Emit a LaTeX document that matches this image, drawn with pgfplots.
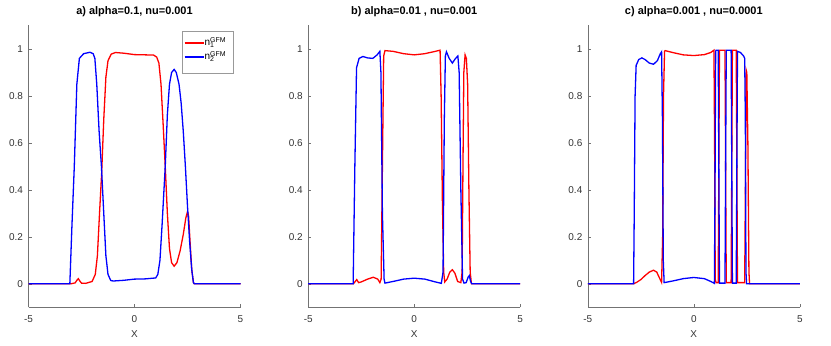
\documentclass[border=0pt]{standalone}
\usepackage{fontspec}
\setmainfont{Liberation Sans}
\setsansfont{Liberation Sans}
\usepackage{pgfplots}
\pgfplotsset{compat=1.18}

\pgfplotsset{
  gfm/.style={
    scale only axis,
    width=212bp, height=281.8bp,
    anchor=south west,
    xmin=-5, xmax=5, ymin=-0.1, ymax=1.1,
    enlargelimits=false,
    axis x line*=bottom, axis y line*=left,
    axis line style={-, draw=black!55, line width=0.5bp},
    tick style={draw=black!55, line width=0.5bp},
    tick align=inside,
    major tick length=3bp,
    xtick={-5,0,5},
    ytick={0,0.2,0.4,0.6,0.8,1},
    /pgf/number format/assume math mode=true,
    tick label style={font=\fontsize{10}{12}\selectfont, text=black!80},
    xticklabel style={anchor=base, yshift=-15bp},
    yticklabel style={xshift=-2bp},
    xlabel={X},
    xlabel style={at={(axis description cs:0.5,0)}, anchor=base, yshift=-30bp,
      font=\fontsize{10}{12}\selectfont, text=black!80},
    title style={at={(axis description cs:0.5,1)}, anchor=base, yshift=5bp,
      font=\bfseries\fontsize{11}{13}\selectfont},
  },
}

\begin{document}
\begin{tikzpicture}[x=1bp,y=1bp]
\path[use as bounding box] (0,0) rectangle (831,345);

% ---- panel a ----
\begin{axis}[gfm, at={(28.5bp,37.7bp)},
  title={a) alpha=0.1, nu=0.001}]
\addplot[red, line width=1.3bp] coordinates {
(-5,0)(-3.0,0)(-2.8,0.004)(-2.72,0.015)(-2.65,0.022)(-2.58,0.012)(-2.5,0.003)
(-2.3,0.002)(-2.0,0.01)(-1.85,0.04)(-1.75,0.12)(-1.65,0.3)(-1.55,0.47)(-1.45,0.7)
(-1.35,0.88)(-1.25,0.95)(-1.1,0.978)(-0.9,0.985)(-0.5,0.982)(0,0.976)(0.5,0.975)
(0.9,0.974)(1.05,0.965)(1.15,0.94)(1.25,0.85)(1.35,0.68)(1.45,0.5)(1.55,0.3)
(1.65,0.15)(1.75,0.09)(1.87,0.075)(2.0,0.09)(2.15,0.14)(2.3,0.21)(2.42,0.28)
(2.5,0.308)(2.55,0.29)(2.62,0.18)(2.7,0.06)(2.78,0.005)(2.82,0)(5,0)
};
\addplot[blue, line width=1.3bp] coordinates {
(-5,0)(-3.05,0)(-2.95,0.25)(-2.84,0.5)(-2.72,0.85)(-2.6,0.96)(-2.4,0.98)
(-2.1,0.986)(-1.95,0.98)(-1.87,0.96)(-1.78,0.85)(-1.67,0.65)(-1.56,0.5)
(-1.45,0.3)(-1.35,0.12)(-1.25,0.04)(-1.12,0.014)(-1.0,0.012)(-0.5,0.015)
(0,0.02)(0.5,0.021)(1.0,0.025)(1.1,0.04)(1.2,0.1)(1.3,0.25)(1.45,0.5)
(1.55,0.72)(1.65,0.85)(1.75,0.9)(1.87,0.913)(1.97,0.9)(2.1,0.85)(2.2,0.77)
(2.3,0.65)(2.4,0.5)(2.5,0.33)(2.6,0.18)(2.7,0.06)(2.78,0.005)(2.82,0)(5,0)
};
% legend box
\draw[black!40, line width=0.5bp, fill=white]
  (rel axis cs:0.724,0.830) rectangle (rel axis cs:0.966,0.978);
\draw[red, line width=1.3bp] (rel axis cs:0.736,0.938) -- (rel axis cs:0.827,0.938);
\draw[blue, line width=1.3bp] (rel axis cs:0.736,0.888) -- (rel axis cs:0.827,0.888);
\node[anchor=base west, inner sep=0pt, yshift=-2.8bp, font=\fontsize{10}{11}\selectfont]
  at (rel axis cs:0.830,0.938) {n\rlap{\textsubscript{1}}\textsuperscript{GFM}};
\node[anchor=base west, inner sep=0pt, yshift=-2.8bp, font=\fontsize{10}{11}\selectfont]
  at (rel axis cs:0.830,0.888) {n\rlap{\textsubscript{2}}\textsuperscript{GFM}};
\end{axis}

% ---- panel b ----
\begin{axis}[gfm, at={(308.2bp,37.7bp)},
  title={b) alpha=0.01 , nu=0.001}]
\addplot[red, line width=1.3bp] coordinates {
(-5,0)(-2.87,0)(-2.78,0.01)(-2.71,0.018)(-2.62,0.005)(-2.5,0.008)(-2.2,0.02)
(-1.93,0.028)(-1.72,0.02)(-1.62,0.005)(-1.56,0.02)(-1.5,0.5)(-1.44,0.97)
(-1.38,0.993)(-1.0,0.99)(-0.5,0.98)(0,0.975)(0.5,0.98)(1.0,0.99)(1.22,0.995)
(1.27,0.8)(1.33,0.35)(1.39,0.05)(1.44,0.008)(1.55,0.02)(1.68,0.05)(1.8,0.06)
(1.92,0.045)(2.05,0.01)(2.2,0.005)(2.26,0.05)(2.3,0.5)(2.34,0.9)(2.4,0.975)
(2.46,0.96)(2.52,0.85)(2.58,0.4)(2.64,0.05)(2.7,0)(5,0)
};
\addplot[blue, line width=1.3bp] coordinates {
(-5,0)(-2.88,0)(-2.8,0.5)(-2.72,0.92)(-2.6,0.96)(-2.42,0.968)(-2.2,0.962)
(-1.95,0.96)(-1.75,0.975)(-1.62,0.99)(-1.57,0.9)(-1.5,0.3)(-1.42,0.02)
(-1.38,0.003)(-1.0,0.01)(-0.5,0.02)(0,0.024)(0.5,0.02)(1.0,0.008)(1.28,0.002)
(1.36,0.05)(1.42,0.7)(1.47,0.97)(1.52,0.988)(1.65,0.96)(1.8,0.94)(1.95,0.96)
(2.06,0.97)(2.12,0.9)(2.2,0.4)(2.28,0.02)(2.35,0.003)(2.45,0.005)(2.55,0.03)
(2.6,0.035)(2.66,0.01)(2.72,0)(5,0)
};
\end{axis}

% ---- panel c ----
\begin{axis}[gfm, at={(587.8bp,37.7bp)},
  title={c) alpha=0.001 , nu=0.0001}]
\addplot[red, line width=1.3bp] coordinates {
(-5,0)(-2.84,0)(-2.78,0.003)(-2.7,0.006)(-2.5,0.018)(-2.3,0.035)(-2.1,0.05)
(-1.9,0.058)(-1.75,0.05)(-1.62,0.025)(-1.52,0.006)(-1.47,0.2)(-1.43,0.8)
(-1.38,0.99)(-1.35,0.993)(-1.0,0.985)(-0.5,0.975)(0,0.972)(0.5,0.976)
(0.8,0.985)(0.95,0.995)(0.98,0.6)(1.01,0.02)(1.05,0.005)(1.15,0.005)(1.18,0.5)
(1.21,0.995)(1.47,0.995)(1.5,0.5)(1.53,0.005)(1.76,0.005)(1.79,0.5)(1.82,0.995)
(2.0,0.995)(2.03,0.5)(2.06,0.005)(2.4,0.005)(2.44,0.5)(2.47,0.91)(2.5,0.9)
(2.55,0.6)(2.6,0.05)(2.63,0)(5,0)
};
\addplot[blue, line width=1.3bp] coordinates {
(-5,0)(-2.84,0)(-2.81,0.3)(-2.77,0.8)(-2.72,0.93)(-2.6,0.955)(-2.45,0.962)
(-2.3,0.955)(-2.1,0.94)(-1.9,0.935)(-1.72,0.95)(-1.58,0.98)(-1.52,0.988)
(-1.48,0.7)(-1.44,0.1)(-1.4,0.005)(-1.0,0.012)(-0.5,0.022)(0,0.027)(0.5,0.022)
(0.8,0.01)(0.97,0.002)(1.0,0.4)(1.03,0.99)(1.05,0.995)(1.15,0.995)(1.18,0.5)
(1.21,0.003)(1.47,0.003)(1.5,0.5)(1.53,0.995)(1.76,0.995)(1.79,0.5)(1.82,0.003)
(2.0,0.003)(2.03,0.5)(2.06,0.99)(2.2,0.985)(2.35,0.97)(2.4,0.96)(2.43,0.7)
(2.46,0.05)(2.49,0)(5,0)
};
\end{axis}
\end{tikzpicture}
\end{document}
